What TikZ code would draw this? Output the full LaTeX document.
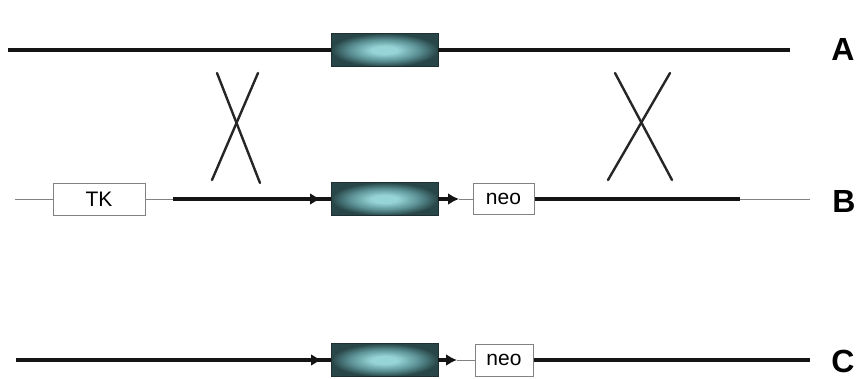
\documentclass[tikz,border=0pt]{standalone}
\usepackage{fontspec}
\setmainfont{Liberation Sans}
\usetikzlibrary{arrows.meta}

\definecolor{boxdark}{RGB}{40,70,72}
\definecolor{boxmid}{RGB}{92,146,150}
\definecolor{boxlight}{RGB}{150,212,216}
\definecolor{boxedge}{RGB}{30,48,50}
\definecolor{thinline}{RGB}{130,130,130}

% glow inside the cassette boxes: soft light core, dark rim
\pgfdeclareradialshading{boxglow}{\pgfpoint{0bp}{0bp}}{%
  color(0bp)=(boxlight); color(6bp)=(boxlight);
  color(16bp)=(boxmid); color(25bp)=(boxdark); color(50bp)=(boxdark)}

\tikzset{
  cassette/.style={draw=boxedge, line width=0.8pt, inner sep=0pt,
    minimum width=107pt, minimum height=33pt,
    path picture={\shade[shading=boxglow]
      (path picture bounding box.south west) rectangle
      (path picture bounding box.north east);}},
  genebox/.style={draw=thinline, line width=1pt, fill=white, inner sep=0pt,
    font=\fontsize{21}{21}\selectfont},
  thick strand/.style={line width=4pt, draw=black!92},
  thin strand/.style={line width=1pt, draw=thinline},
  arrowed strand/.style={thick strand, -{Latex[length=11pt,width=12pt]}},
  crossline/.style={line width=2.4pt, draw=black!85, line cap=round},
  rowlabel/.style={font=\bfseries\fontsize{32}{32}\selectfont, inner sep=0pt}
}

\begin{document}
\begin{tikzpicture}[x=1pt,y=-1pt]
\useasboundingbox (0,0) rectangle (859,378);

% ---- row A: chromosomal locus ----
\node[cassette] (boxA) at (384.5,50) {};
\coordinate (aL) at (8,50);
\coordinate (aR) at (790,50);
\draw[thick strand] (aL) -- (boxA.west);
\draw[thick strand] (boxA.east) -- (aR);
\node[rowlabel] (labA) at (843,49) {A};

% ---- row B: targeting construct ----
\node[cassette] (boxB) at (384.5,199) {};
\node[genebox, minimum width=92pt, minimum height=32pt] (tk) at (99,199) {TK};
\node[genebox, minimum width=61pt, minimum height=31pt] (neoB) at (503.5,199) {neo};
\coordinate (bL) at (15,199);
\coordinate (bT) at (173,199);
\coordinate (bTipL) at (321,199);
\coordinate (bTipR) at (459,199);
\coordinate (bE) at (740,199);
\coordinate (bR) at (810,199);
\draw[thin strand] (bL) -- (tk.west);
\draw[thin strand] (tk.east) -- (bT);
\draw[thick strand] (bT) -- (boxB.west);
\draw[arrowed strand] (bT) -- (bTipL);
\draw[arrowed strand] (boxB.east) -- (bTipR);
\draw[thin strand] (bTipR) -- (neoB.west);
\draw[thick strand] (neoB.east) -- (bE);
\draw[thin strand] (bE) -- (bR);
\node[rowlabel] (labB) at (844,201) {B};

% ---- crossover marks between A and B ----
\coordinate (x1a) at (217,73);  \coordinate (x1b) at (260,183);
\coordinate (x1c) at (258,73);  \coordinate (x1d) at (212,180);
\coordinate (x2a) at (615,73);  \coordinate (x2b) at (672,180);
\coordinate (x2c) at (670,73);  \coordinate (x2d) at (608,180);
\draw[crossline] (x1a) -- (x1b);
\draw[crossline] (x1c) -- (x1d);
\draw[crossline] (x2a) -- (x2b);
\draw[crossline] (x2c) -- (x2d);

% ---- row C: recombined locus ----
\node[cassette] (boxC) at (384.5,360) {};
\node[genebox, minimum width=58pt, minimum height=32pt] (neoC) at (504,360) {neo};
\coordinate (cL) at (16,360);
\coordinate (cTipL) at (322,360);
\coordinate (cTipR) at (457,360);
\coordinate (cR) at (810,360);
\draw[thick strand] (cL) -- (boxC.west);
\draw[arrowed strand] (cL) -- (cTipL);
\draw[arrowed strand] (boxC.east) -- (cTipR);
\draw[thin strand] (cTipR) -- (neoC.west);
\draw[thick strand] (neoC.east) -- (cR);
\node[rowlabel] (labC) at (843,361) {C};
\end{tikzpicture}
\end{document}
